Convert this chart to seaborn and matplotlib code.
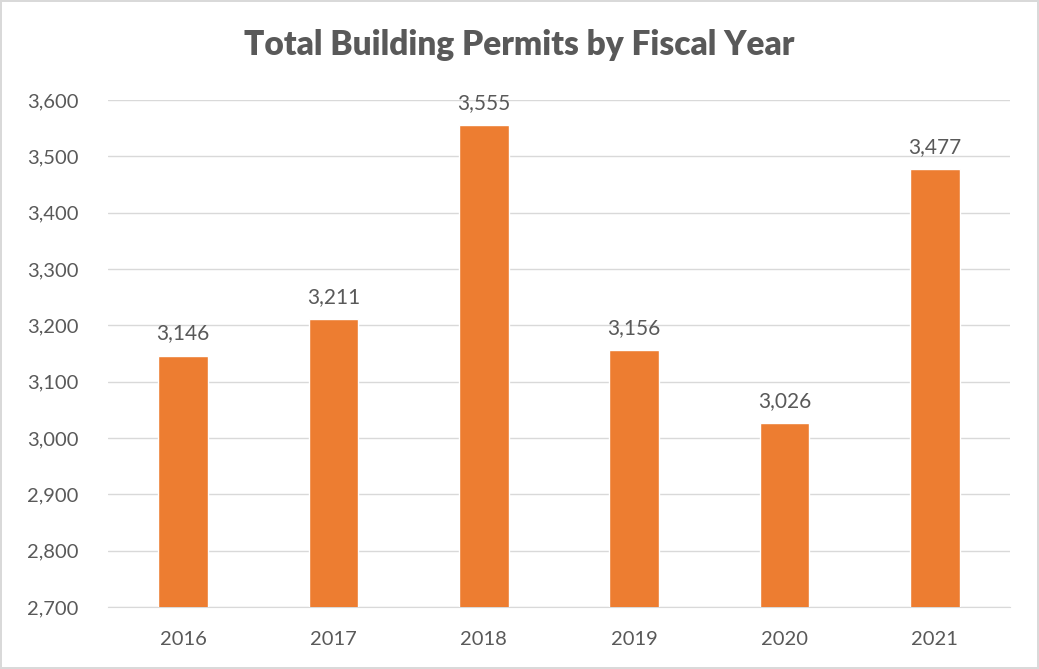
import seaborn as sns
import matplotlib.pyplot as plt
import pandas as pd

# Data
years = ["2016", "2017", "2018", "2019", "2020", "2021"]
permits = [3146, 3211, 3555, 3156, 3026, 3477]
y_ticks = [2700, 2800, 2900, 3000, 3100, 3200, 3300, 3400, 3500, 3600]

df = pd.DataFrame({"year": years, "permits": permits})

sns.set_style("white")
plt.rcParams["font.family"] = ["Lato", "DejaVu Sans"]

text_color = "#595959"
bar_color = "#ED7D31"

fig = plt.figure(figsize=(10.39, 6.69), dpi=100)
ax = fig.add_axes([108 / 1039, 1 - 607 / 669, 902 / 1039, 507 / 669])

# the axes starts at 2700, so draw bars from the bottom of the axis
sns.barplot(data=df, x="year", y="permits", color=bar_color, width=0.33,
            saturation=1, ax=ax, zorder=3)

ax.set_ylim(2700, 3600)
ax.set_xlim(-0.5, 5.5)
ax.set_yticks(y_ticks)
ax.set_yticklabels([f"{v:,}" for v in y_ticks])
ax.yaxis.grid(True, color="#D9D9D9", linewidth=1, zorder=0)
ax.set_axisbelow(True)

for s in ["top", "right", "left"]:
    ax.spines[s].set_visible(False)
ax.spines["bottom"].set_color("#D9D9D9")

ax.tick_params(axis="both", length=0, labelsize=14.5, colors=text_color)
ax.tick_params(axis="y", pad=21)
ax.tick_params(axis="x", pad=17)
ax.set_xlabel("")
ax.set_ylabel("")

# value labels above bars
for i, v in enumerate(permits):
    ax.text(i, v + 22, f"{v:,}", ha="center", va="bottom", fontsize=15, color=text_color)

fig.text(0.5, 1 - 45 / 669, "Total Building Permits by Fiscal Year", ha="center", va="center",
         fontsize=24, fontweight="heavy", color=text_color)

# light border around the chart
fig.patch.set_edgecolor("#D9D9D9")
fig.patch.set_linewidth(1.5)

fig.savefig("out.png", dpi=100, edgecolor=fig.get_edgecolor())
